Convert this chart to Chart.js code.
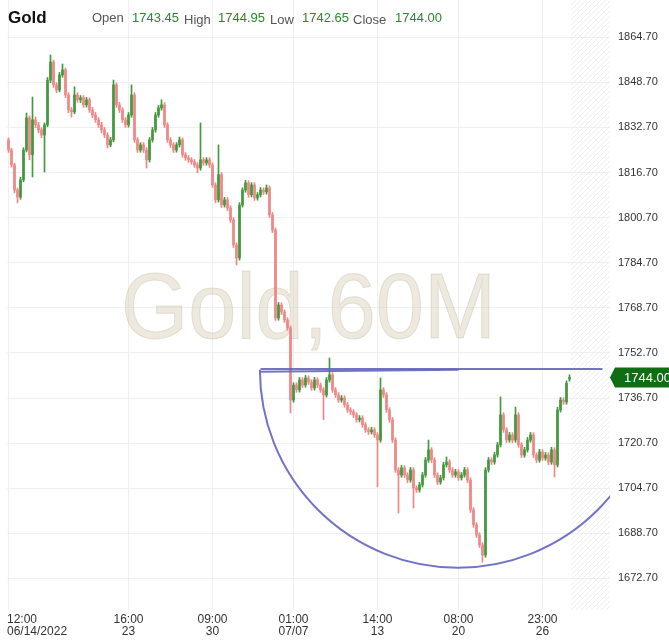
<!DOCTYPE html>
<html>
<head>
<meta charset="utf-8">
<script src="https://cdn.jsdelivr.net/npm/chart.js@4.4.0/dist/chart.umd.min.js"></script>
<style>
  html, body { margin: 0; padding: 0; background: #fff; }
</style>
</head>
<body>
<canvas id="myChart" width="669" height="643"></canvas>
<script>
// hourly candles, Gold 60M (one entry per candle)
const opens = [
  1828.3, 1824.7, 1819.4, 1810.5, 1808.0, 1814.1, 1824.7, 1836.1, 1823.0, 1835.4,
  1833.6, 1831.8, 1830.0, 1833.6, 1849.5, 1855.9, 1847.8, 1846.0, 1851.3, 1853.1,
  1844.2, 1838.9, 1838.2, 1844.2, 1842.5, 1843.2, 1840.7, 1842.5, 1838.9, 1837.1,
  1835.4, 1833.6, 1831.8, 1830.0, 1826.5, 1828.3, 1847.8, 1840.7, 1838.9, 1835.4,
  1833.6, 1837.1, 1844.2, 1828.3, 1824.7, 1826.5, 1824.7, 1821.2, 1828.3, 1831.8,
  1837.1, 1839.6, 1840.7, 1833.6, 1828.3, 1826.5, 1824.7, 1826.5, 1828.3, 1823.0,
  1821.9, 1821.2, 1820.5, 1819.4, 1818.3, 1821.2, 1820.1, 1821.2, 1819.4, 1812.3,
  1807.0, 1815.9, 1805.2, 1807.0, 1804.1, 1799.9, 1791.0, 1786.4, 1805.2, 1810.5,
  1813.0, 1808.8, 1812.3, 1807.7, 1808.8, 1810.5, 1809.8, 1811.2, 1801.7, 1796.3,
  1765.1, 1769.7, 1767.2, 1764.4, 1761.6, 1736.0, 1741.3, 1739.6, 1743.1, 1741.3,
  1743.8, 1742.4, 1740.3, 1743.1, 1741.3, 1739.6, 1737.8, 1743.1, 1744.9, 1739.6,
  1737.8, 1736.0, 1736.7, 1734.3, 1732.5, 1731.8, 1730.7, 1729.0, 1729.6, 1727.2,
  1725.4, 1724.7, 1725.4, 1723.6, 1721.8, 1739.6, 1737.8, 1732.5, 1729.0, 1721.8,
  1711.2, 1709.4, 1711.9, 1709.4, 1707.6, 1711.2, 1704.8, 1704.1, 1705.9, 1709.4,
  1714.7, 1718.3, 1714.7, 1709.4, 1706.9, 1708.4, 1713.0, 1714.0, 1711.2, 1709.4,
  1710.5, 1708.4, 1709.4, 1711.2, 1707.6, 1697.0, 1691.7, 1688.1, 1684.6, 1681.0,
  1711.2, 1714.7, 1714.0, 1716.5, 1720.1, 1730.7, 1725.4, 1721.8, 1723.6, 1721.8,
  1730.7, 1720.1, 1716.5, 1718.3, 1721.8, 1723.6, 1716.5, 1714.7, 1717.6, 1715.4,
  1716.5, 1714.0, 1718.3, 1713.0, 1732.5, 1736.0, 1735.3, 1743.45
];
const highs = [
  1829.0, 1825.3, 1820.0, 1811.2, 1815.0, 1825.5, 1837.8, 1836.8, 1843.5, 1836.4,
  1834.5, 1832.6, 1834.3, 1850.4, 1858.4, 1856.6, 1848.6, 1852.2, 1855.2, 1853.8,
  1845.0, 1839.8, 1847.1, 1845.0, 1844.0, 1844.0, 1843.4, 1843.2, 1839.8, 1838.0,
  1836.2, 1834.5, 1832.7, 1830.8, 1829.2, 1849.5, 1848.5, 1841.6, 1839.7, 1836.2,
  1838.0, 1847.8, 1845.0, 1829.1, 1827.3, 1827.3, 1825.5, 1829.1, 1832.7, 1838.0,
  1840.5, 1842.5, 1841.5, 1834.4, 1829.1, 1827.3, 1827.3, 1829.3, 1829.0, 1823.8,
  1822.7, 1822.0, 1821.3, 1820.2, 1834.3, 1822.0, 1822.0, 1822.0, 1820.2, 1813.1,
  1826.5, 1816.7, 1807.9, 1807.8, 1804.9, 1800.7, 1791.8, 1806.0, 1811.3, 1813.9,
  1813.8, 1813.1, 1813.1, 1809.6, 1811.4, 1811.3, 1812.3, 1812.0, 1802.5, 1797.0,
  1770.6, 1770.5, 1768.0, 1765.2, 1762.3, 1742.1, 1742.1, 1744.0, 1743.9, 1744.7,
  1744.6, 1743.2, 1744.0, 1743.9, 1742.1, 1740.4, 1744.0, 1750.9, 1745.7, 1740.4,
  1738.6, 1737.6, 1737.5, 1735.1, 1733.3, 1732.6, 1731.5, 1730.5, 1730.4, 1728.0,
  1726.2, 1726.3, 1726.2, 1724.4, 1743.8, 1740.4, 1738.6, 1733.3, 1729.8, 1722.6,
  1712.0, 1712.8, 1712.7, 1710.2, 1712.1, 1712.0, 1705.6, 1706.8, 1710.3, 1715.6,
  1721.8, 1719.1, 1715.5, 1710.2, 1709.3, 1713.9, 1715.8, 1714.8, 1712.0, 1711.4,
  1711.3, 1710.3, 1712.1, 1712.0, 1708.4, 1697.8, 1692.5, 1688.9, 1685.4, 1712.0,
  1715.6, 1715.5, 1717.4, 1721.0, 1737.1, 1731.5, 1726.2, 1724.5, 1724.4, 1733.5,
  1731.5, 1720.9, 1719.2, 1722.7, 1724.5, 1724.4, 1717.3, 1718.5, 1718.4, 1717.4,
  1717.3, 1719.2, 1719.1, 1733.4, 1736.9, 1736.8, 1742.8, 1744.95
];
const lows = [
  1823.8, 1818.6, 1809.5, 1805.9, 1807.2, 1813.4, 1824.0, 1821.2, 1815.1, 1832.6,
  1830.8, 1829.0, 1816.9, 1832.9, 1848.6, 1846.9, 1845.0, 1845.3, 1850.5, 1843.3,
  1837.9, 1836.4, 1837.5, 1841.6, 1841.5, 1839.8, 1839.9, 1838.0, 1836.2, 1834.5,
  1832.7, 1830.8, 1829.1, 1825.4, 1825.8, 1827.6, 1839.8, 1838.0, 1834.5, 1832.7,
  1832.8, 1836.3, 1827.4, 1823.8, 1823.9, 1823.8, 1818.3, 1820.4, 1827.5, 1831.0,
  1836.3, 1838.8, 1832.7, 1827.4, 1825.6, 1823.8, 1823.9, 1825.7, 1822.1, 1821.0,
  1820.3, 1819.6, 1818.5, 1816.6, 1817.5, 1819.2, 1819.3, 1818.5, 1811.4, 1806.0,
  1806.2, 1804.3, 1804.4, 1803.2, 1799.0, 1790.1, 1783.9, 1785.6, 1804.4, 1809.7,
  1807.9, 1808.0, 1806.8, 1806.9, 1808.0, 1808.9, 1809.0, 1800.8, 1795.4, 1764.2,
  1764.3, 1766.3, 1763.5, 1760.7, 1731.4, 1735.2, 1738.7, 1738.8, 1740.4, 1740.5,
  1741.5, 1739.4, 1739.5, 1740.4, 1738.7, 1729.0, 1737.0, 1742.3, 1738.7, 1736.9,
  1735.1, 1735.2, 1733.4, 1731.6, 1730.9, 1729.8, 1728.1, 1728.2, 1726.3, 1724.5,
  1723.8, 1723.9, 1722.7, 1705.2, 1721.0, 1736.9, 1731.6, 1728.1, 1720.9, 1710.3,
  1695.9, 1708.6, 1708.5, 1706.7, 1706.8, 1697.7, 1703.2, 1703.3, 1705.1, 1708.6,
  1713.9, 1713.8, 1708.5, 1706.0, 1706.1, 1707.6, 1712.2, 1710.3, 1708.5, 1708.6,
  1707.5, 1707.6, 1708.6, 1706.7, 1696.1, 1690.8, 1687.2, 1683.7, 1678.5, 1680.2,
  1710.4, 1713.1, 1713.2, 1715.7, 1719.3, 1724.5, 1720.9, 1721.0, 1720.9, 1721.0,
  1719.2, 1715.6, 1715.7, 1717.5, 1721.0, 1715.6, 1713.8, 1713.9, 1714.5, 1714.6,
  1713.1, 1713.2, 1708.7, 1712.2, 1731.7, 1734.4, 1734.5, 1742.65
];
const closes = [
  1824.7, 1819.4, 1810.5, 1808.0, 1814.1, 1824.7, 1836.1, 1823.0, 1835.4, 1833.6,
  1831.8, 1830.0, 1833.6, 1849.5, 1855.9, 1847.8, 1846.0, 1851.3, 1853.1, 1844.2,
  1838.9, 1838.2, 1844.2, 1842.5, 1843.2, 1840.7, 1842.5, 1838.9, 1837.1, 1835.4,
  1833.6, 1831.8, 1830.0, 1826.5, 1828.3, 1847.8, 1840.7, 1838.9, 1835.4, 1833.6,
  1837.1, 1844.2, 1828.3, 1824.7, 1826.5, 1824.7, 1821.2, 1828.3, 1831.8, 1837.1,
  1839.6, 1840.7, 1833.6, 1828.3, 1826.5, 1824.7, 1826.5, 1828.3, 1823.0, 1821.9,
  1821.2, 1820.5, 1819.4, 1818.3, 1821.2, 1820.1, 1821.2, 1819.4, 1812.3, 1807.0,
  1815.9, 1805.2, 1807.0, 1804.1, 1799.9, 1791.0, 1786.4, 1805.2, 1810.5, 1813.0,
  1808.8, 1812.3, 1807.7, 1808.8, 1810.5, 1809.8, 1811.2, 1801.7, 1796.3, 1765.1,
  1769.7, 1767.2, 1764.4, 1761.6, 1736.0, 1741.3, 1739.6, 1743.1, 1741.3, 1743.8,
  1742.4, 1740.3, 1743.1, 1741.3, 1739.6, 1737.8, 1743.1, 1744.9, 1739.6, 1737.8,
  1736.0, 1736.7, 1734.3, 1732.5, 1731.8, 1730.7, 1729.0, 1729.6, 1727.2, 1725.4,
  1724.7, 1725.4, 1723.6, 1721.8, 1739.6, 1737.8, 1732.5, 1729.0, 1721.8, 1711.2,
  1709.4, 1711.9, 1709.4, 1707.6, 1711.2, 1704.8, 1704.1, 1705.9, 1709.4, 1714.7,
  1718.3, 1714.7, 1709.4, 1706.9, 1708.4, 1713.0, 1714.0, 1711.2, 1709.4, 1710.5,
  1708.4, 1709.4, 1711.2, 1707.6, 1697.0, 1691.7, 1688.1, 1684.6, 1681.0, 1711.2,
  1714.7, 1714.0, 1716.5, 1720.1, 1730.7, 1725.4, 1721.8, 1723.6, 1721.8, 1730.7,
  1720.1, 1716.5, 1718.3, 1721.8, 1723.6, 1716.5, 1714.7, 1717.6, 1715.4, 1716.5,
  1714.0, 1718.3, 1713.0, 1732.5, 1736.0, 1735.3, 1742.0, 1744.00
];

// x axis: candle index of each labelled time
const xTickIdx = [0, 40, 68, 95, 123, 150, 178];
const xTickTime = ["12:00", "16:00", "09:00", "01:00", "14:00", "08:00", "23:00"];
const xTickDate = ["06/14/2022", "23", "30", "07/07", "13", "20", "26"];
const yTicks = [1672.7, 1688.7, 1704.7, 1720.7, 1736.7, 1752.7, 1768.7, 1784.7, 1800.7, 1816.7, 1832.7, 1848.7, 1864.7];

// drawings on the chart (candle index / price)
const levelLines = [
  { from: 84, to: 198, p1: 1747.0, p2: 1747.0 },
  { from: 84, to: 150, p1: 1746.0, p2: 1746.7 },
];
const bowl = { center: 149.8, price: 1746.7, rx: 66, ry: 70.2 };

const symbol = "Gold";
const watermark = "Gold,60M";

const FONT = '"Liberation Sans", Arial, sans-serif';
const upColor = "#43993f";
const downColor = "#ef8787";
const colors = closes.map((c, i) => (c >= opens[i] ? upColor : downColor));

const overlay = {
  id: "overlay",
  beforeDatasetsDraw(chart) {
    const { ctx, chartArea: a, scales } = chart;
    const x = scales.x;

    // hatched "future" zone after the last candle
    const hx = x.getPixelForValue(closes.length - 0.5);
    const h = a.bottom - a.top;
    ctx.save();
    ctx.beginPath();
    ctx.rect(hx, a.top, a.right - hx, h);
    ctx.clip();
    ctx.strokeStyle = "#efefef";
    ctx.lineWidth = 1;
    for (let k = hx - h; k < a.right; k += 5) {
      ctx.beginPath();
      ctx.moveTo(k, a.bottom);
      ctx.lineTo(k + h, a.top);
      ctx.stroke();
    }
    ctx.restore();

    // big watermark
    ctx.save();
    ctx.font = "92px " + FONT;
    ctx.textAlign = "center";
    ctx.textBaseline = "alphabetic";
    const cx = (a.left + a.right) / 2;
    const cy = (a.top + a.bottom) / 2 + 33;
    ctx.fillStyle = "rgba(214,206,184,0.45)";
    ctx.fillText(watermark, cx, cy, 375);
    ctx.strokeStyle = "rgba(190,180,150,0.35)";
    ctx.lineWidth = 1;
    ctx.strokeText(watermark, cx, cy, 375);
    ctx.restore();
  },
  afterDatasetsDraw(chart) {
    const { ctx, chartArea: a, scales } = chart;
    const { x, y } = scales;
    ctx.save();
    ctx.beginPath();
    ctx.rect(a.left, a.top, a.right - a.left, a.bottom - a.top);
    ctx.clip();
    ctx.strokeStyle = "rgba(100,100,190,0.9)";
    ctx.lineWidth = 2;
    levelLines.forEach((l) => {
      ctx.beginPath();
      ctx.moveTo(x.getPixelForValue(l.from), y.getPixelForValue(l.p1));
      ctx.lineTo(x.getPixelForValue(l.to), y.getPixelForValue(l.p2));
      ctx.stroke();
    });
    const px = x.getPixelForValue(bowl.center);
    const py = y.getPixelForValue(bowl.price);
    const rx = x.getPixelForValue(bowl.center + bowl.rx) - px;
    const ry = y.getPixelForValue(bowl.price - bowl.ry) - py;
    ctx.beginPath();
    ctx.ellipse(px, py, rx, ry, 0, 0, Math.PI);
    ctx.stroke();
    ctx.restore();
  },
  afterDraw(chart) {
    const { ctx, chartArea: a, scales } = chart;
    const { x, y } = scales;
    const n = closes.length - 1;

    // header
    ctx.save();
    ctx.textBaseline = "alphabetic";
    ctx.textAlign = "left";
    ctx.fillStyle = "#111";
    ctx.font = "bold 17px " + FONT;
    ctx.fillText(symbol, 8, 23);
    const head = [
      ["Open", 92, 22, false], [opens[n].toFixed(2), 132, 22, true],
      ["High", 184, 24, false], [highs[n].toFixed(2), 218, 22, true],
      ["Low", 270, 24, false], [lows[n].toFixed(2), 302, 22, true],
      ["Close", 353, 24, false], [closes[n].toFixed(2), 395, 22, true],
    ];
    ctx.font = "13px " + FONT;
    head.forEach(([t, hx, hy, val]) => {
      ctx.fillStyle = val ? "#2a8a2a" : "#555";
      ctx.fillText(t, hx, hy);
    });

    // x labels
    ctx.font = "12px " + FONT;
    ctx.fillStyle = "#333";
    ctx.textBaseline = "middle";
    xTickIdx.forEach((v, i) => {
      const tx = x.getPixelForValue(v);
      ctx.textAlign = i === 0 ? "left" : "center";
      const lx = i === 0 ? a.left : tx;
      ctx.fillText(xTickTime[i], lx, a.bottom + 10);
      ctx.fillText(xTickDate[i], lx, a.bottom + 22);
    });

    // last price tag
    const ty = y.getPixelForValue(closes[n]);
    ctx.fillStyle = "#0f6e14";
    ctx.beginPath();
    ctx.moveTo(a.right, ty);
    ctx.lineTo(a.right + 5, ty - 10);
    ctx.lineTo(chart.width, ty - 10);
    ctx.lineTo(chart.width, ty + 10);
    ctx.lineTo(a.right + 5, ty + 10);
    ctx.closePath();
    ctx.fill();
    ctx.fillStyle = "#fff";
    ctx.textAlign = "left";
    ctx.font = "13px " + FONT;
    ctx.fillText(closes[n].toFixed(2), a.right + 14, ty + 1);
    ctx.restore();
  },
};

const ctx = document.getElementById("myChart").getContext("2d");
new Chart(ctx, {
  type: "bar",
  data: {
    datasets: [
      {
        label: "wick",
        data: closes.map((c, i) => ({ x: i, y: [lows[i], highs[i]] })),
        backgroundColor: colors,
        barThickness: 1,
        grouped: false,
      },
      {
        label: "body",
        data: closes.map((c, i) => ({ x: i, y: [opens[i], c] })),
        backgroundColor: colors,
        barThickness: 2,
        minBarLength: 1,
        grouped: false,
      },
    ],
  },
  options: {
    responsive: false,
    animation: false,
    layout: { padding: { left: 7, top: 0, right: 0, bottom: 0 } },
    plugins: { legend: { display: false }, tooltip: { enabled: false } },
    scales: {
      x: {
        type: "linear",
        offset: false,
        min: -0.5,
        max: 200.5,
        afterBuildTicks(scale) {
          scale.ticks = xTickIdx.map((v) => ({ value: v }));
        },
        afterFit(scale) {
          scale.height = 33;
          scale.paddingLeft = 0;
          scale.paddingRight = 0;
        },
        ticks: { display: false },
        grid: { color: "#efefef", drawTicks: false, offset: false },
        border: { display: false },
      },
      y: {
        position: "right",
        min: 1661.5,
        max: 1877.9,
        afterBuildTicks(scale) {
          scale.ticks = yTicks.map((v) => ({ value: v }));
        },
        afterFit(scale) {
          scale.width = 59;
          scale.paddingTop = 0;
          scale.paddingBottom = 0;
        },
        ticks: {
          autoSkip: false,
          padding: 8,
          color: "#333",
          font: { size: 11, family: FONT },
          callback: (v) => Number(v).toFixed(2),
        },
        grid: { color: "#efefef", drawTicks: false },
        border: { display: false },
      },
    },
  },
  plugins: [overlay],
});
</script>
</body>
</html>
